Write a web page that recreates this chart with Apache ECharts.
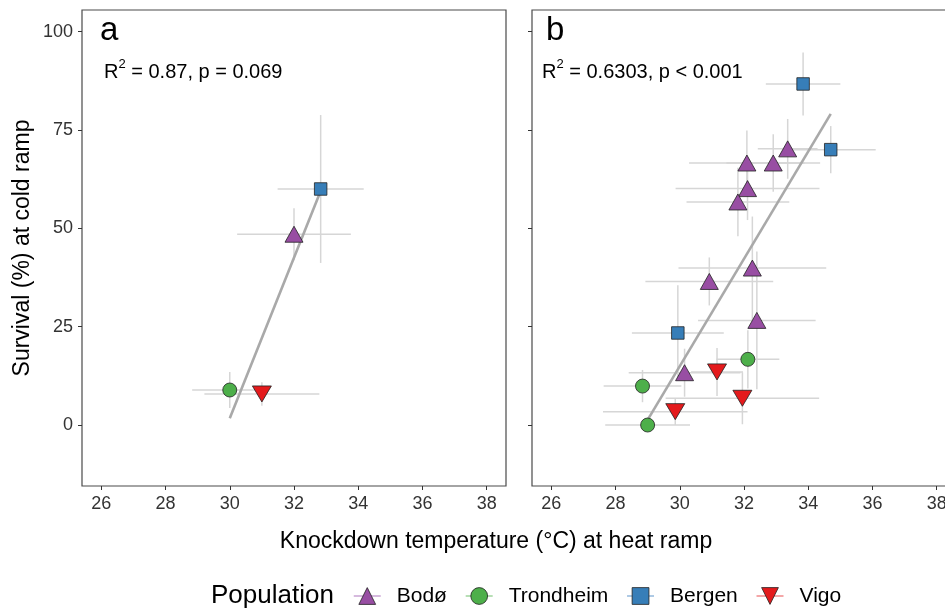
<!DOCTYPE html>
<html><head><meta charset="utf-8">
<script src="https://cdn.jsdelivr.net/npm/echarts@6/dist/echarts.min.js"></script>
<style>html,body{margin:0;padding:0;background:#fff}#c{width:945px;height:610px}</style>
</head><body><div id="c"></div>
<script>
const populations = ['Bodø', 'Trondheim', 'Bergen', 'Vigo'];
const xTicks = [26, 28, 30, 32, 34, 36, 38];
const yTicks = [0, 25, 50, 75, 100];

// rows: [knockdown temp, survival %, temp error, survival error]
// panel a (population means)
const aBodo      = [[32.0, 48.5, 1.77, 6.6]];
const aTrondheim = [[30.0, 8.9, 1.17, 4.6]];
const aBergen    = [[32.83, 60.0, 1.34, 18.8]];
const aVigo      = [[31.0, 7.9, 1.79, 3.0]];
// panel b (lines)
const bBodo = [
  [32.09, 66.6, 1.80, 8.3], [32.91, 66.6, 1.46, 7.3], [33.36, 70.2, 0.93, 7.6],
  [32.11, 60.1, 2.24, 8.0], [31.81, 56.7, 1.60, 8.7], [32.26, 39.9, 2.30, 13.1],
  [30.92, 36.5, 1.99, 6.1], [32.40, 26.6, 1.83, 17.5], [30.15, 13.3, 1.74, 6.1]
];
const bTrondheim = [[28.84, 9.9, 1.21, 4.1], [29.0, 0.0, 1.32, 0.6], [32.12, 16.7, 0.98, 7.4]];
const bBergen    = [[33.84, 86.7, 1.16, 8.0], [34.70, 70.0, 1.40, 6.0], [29.94, 23.4, 1.43, 12.1]];
const bVigo      = [[29.86, 3.4, 2.25, 3.4], [31.16, 13.5, 0.81, 6.1], [31.95, 6.8, 2.39, 6.6]];
// regression line end points
const aFitX = [30.0, 32.83], aFitY = [1.7, 59.5];
const bFitX = [29.0, 34.7],  bFitY = [1.3, 79.1];

const colors = ['#984ea3', '#4daf4a', '#377eb8', '#e41a1c'];
const lightColors = ['#c9a3d3', '#9fd49d', '#93b9dd', '#f08a8b'];
const symbols = ['triangle', 'circle', 'rect', 'path://M0,0 L20,0 L10,17 Z'];
const sizes = [[18, 16], 14, 12.5, [19, 16]];
const FONT = 'Liberation Sans, Arial, sans-serif';

const panelA = [aBodo, aTrondheim, aBergen, aVigo];
const panelB = [bBodo, bTrondheim, bBergen, bVigo];

function renderErr(params, api) {
  const x = api.value(0), y = api.value(1), ex = api.value(2), ey = api.value(3);
  const h1 = api.coord([x - ex, y]), h2 = api.coord([x + ex, y]);
  const v1 = api.coord([x, y - ey]), v2 = api.coord([x, y + ey]);
  const st = { stroke: '#d6d6d6', lineWidth: 1.5 };
  return { type: 'group', children: [
    { type: 'line', shape: { x1: h1[0], y1: h1[1], x2: h2[0], y2: h2[1] }, style: st },
    { type: 'line', shape: { x1: v1[0], y1: v1[1], x2: v2[0], y2: v2[1] }, style: st }
  ]};
}

function xAxisOf(i) {
  return {
    gridIndex: i, type: 'value', min: 25.4, max: 38.6, position: 'bottom',
    axisLine: { show: false, onZero: false },
    axisTick: { show: true, length: 4, lineStyle: { color: '#333', width: 1 }, customValues: xTicks },
    axisLabel: { show: true, customValues: xTicks, fontSize: 18, color: '#333', margin: 9, fontFamily: FONT },
    splitLine: { show: false }
  };
}
function yAxisOf(i) {
  const ax = {
    gridIndex: i, type: 'value', min: -15.5, max: 105.5, position: 'left',
    axisLine: { show: false, onZero: false },
    axisTick: { show: true, length: 4, lineStyle: { color: '#333', width: 1 }, customValues: yTicks },
    axisLabel: { show: i === 0, customValues: yTicks, fontSize: 18, color: '#333', margin: 9, fontFamily: FONT },
    splitLine: { show: false }
  };
  if (i === 0) {
    ax.name = 'Survival (%) at cold ramp';
    ax.nameLocation = 'middle';
    ax.nameGap = 48;
    ax.nameTextStyle = { fontSize: 23, color: '#000', fontFamily: FONT };
  }
  return ax;
}

const series = [];
// legend key series (line + symbol, like the ggplot key)
populations.forEach((p, i) => {
  series.push({
    type: 'line', name: p, data: [], xAxisIndex: 0, yAxisIndex: 0,
    symbol: symbols[i],
    itemStyle: { color: colors[i], borderColor: '#222', borderWidth: 0.8 },
    lineStyle: { color: lightColors[i], width: 1.5 }
  });
});
[panelA, panelB].forEach((panel, pi) => {
  series.push({
    type: 'custom', xAxisIndex: pi, yAxisIndex: pi, z: 1, silent: true,
    renderItem: renderErr, encode: { x: 0, y: 1 },
    data: [].concat(...panel)
  });
});
[[aFitX, aFitY], [bFitX, bFitY]].forEach((f, pi) => {
  series.push({
    type: 'line', xAxisIndex: pi, yAxisIndex: pi, z: 2, silent: true,
    showSymbol: false, symbol: 'none',
    lineStyle: { color: '#a9a9a9', width: 2.6 },
    data: f[0].map((x, k) => [x, f[1][k]])
  });
});
[panelA, panelB].forEach((panel, pi) => {
  panel.forEach((rows, i) => {
    series.push({
      type: 'scatter', name: populations[i], xAxisIndex: pi, yAxisIndex: pi, z: 3,
      symbol: symbols[i], symbolSize: sizes[i],
      itemStyle: { color: colors[i], borderColor: '#222', borderWidth: 0.8, opacity: 1 },
      data: rows.map(r => [r[0], r[1]])
    });
  });
});

const chart = echarts.init(document.getElementById('c'), null, { renderer: 'canvas' });
chart.setOption({
  animation: false,
  backgroundColor: '#fff',
  textStyle: { fontFamily: FONT },
  grid: [
    { left: 82, top: 10, width: 424, height: 476, show: true, borderColor: '#4a4a4a', borderWidth: 1.2, backgroundColor: 'transparent', outerBoundsMode: 'none', containLabel: false },
    { left: 532, top: 10, width: 424, height: 476, show: true, borderColor: '#4a4a4a', borderWidth: 1.2, backgroundColor: 'transparent', outerBoundsMode: 'none', containLabel: false }
  ],
  xAxis: [xAxisOf(0), xAxisOf(1)],
  yAxis: [yAxisOf(0), yAxisOf(1)],
  legend: {
    left: 353, top: 585.5, padding: 0, orient: 'horizontal',
    itemWidth: 27, itemHeight: 21, itemGap: 18, selectedMode: false,
    textStyle: { fontSize: 21, color: '#000', fontFamily: FONT, padding: [0, 0, 0, 11] },
    data: populations.map((p, i) => ({
      name: p,
      itemStyle: { color: colors[i], borderColor: '#222', borderWidth: 0.8 },
      lineStyle: { color: lightColors[i], width: 1.5 }
    }))
  },
  graphic: [
    { type: 'text', left: 100, top: 14, style: { text: 'a', fontSize: 33, fill: '#000', fontFamily: FONT } },
    { type: 'text', left: 546, top: 14, style: { text: 'b', fontSize: 33, fill: '#000', fontFamily: FONT } },
    { type: 'text', left: 104, top: 58, style: {
        text: '{m|R}{s|2}{m| = 0.87, p = 0.069}',
        rich: { m: { fontSize: 20, fontFamily: FONT, fill: '#000', verticalAlign: 'bottom', lineHeight: 24 },
                s: { fontSize: 13, fontFamily: FONT, fill: '#000', verticalAlign: 'top', lineHeight: 24 } } } },
    { type: 'text', left: 542, top: 58, style: {
        text: '{m|R}{s|2}{m| = 0.6303, p < 0.001}',
        rich: { m: { fontSize: 20, fontFamily: FONT, fill: '#000', verticalAlign: 'bottom', lineHeight: 24 },
                s: { fontSize: 13, fontFamily: FONT, fill: '#000', verticalAlign: 'top', lineHeight: 24 } } } },
    { type: 'text', x: 496, y: 542, style: { text: 'Knockdown temperature (°C) at heat ramp', fontSize: 23, fill: '#000', fontFamily: FONT, align: 'center', verticalAlign: 'middle' } },
    { type: 'text', x: 211, y: 596, style: { text: 'Population', fontSize: 26, fill: '#000', fontFamily: FONT, align: 'left', verticalAlign: 'middle' } }
  ],
  series: series
});
</script>
</body></html>
